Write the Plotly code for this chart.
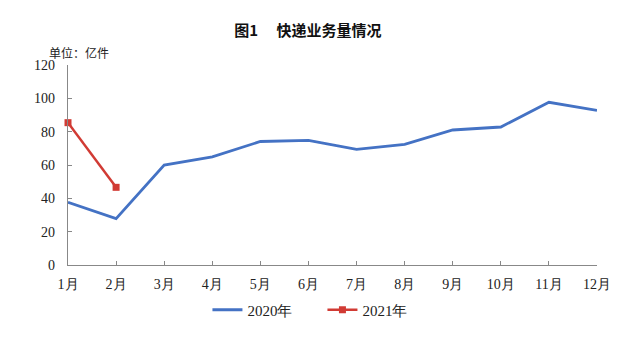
import plotly.graph_objects as go

months = ["1月", "2月", "3月", "4月", "5月", "6月", "7月", "8月", "9月", "10月", "11月", "12月"]
vals_2020 = [37.6, 27.8, 59.9, 64.9, 74.1, 74.8, 69.4, 72.4, 81.0, 82.8, 97.6, 92.8]
months_2021 = ["1月", "2月"]
vals_2021 = [85.4, 46.6]
y_ticks = [0, 20, 40, 60, 80, 100, 120]

serif = "Liberation Serif, Times New Roman, serif"
cjk = "Noto Sans CJK SC"

fig = go.Figure()
fig.add_trace(go.Scatter(x=months, y=vals_2020, mode="lines", name="2020年",
                         line=dict(color="#4472C4", width=2.8)))
fig.add_trace(go.Scatter(x=months_2021, y=vals_2021, mode="lines+markers", name="2021年",
                         line=dict(color="#D13B34", width=2.5),
                         marker=dict(symbol="square", size=7, color="#D13B34"),
                         cliponaxis=False))

fig.update_layout(
    width=640, height=338,
    margin=dict(l=68, r=43, t=65, b=73),
    paper_bgcolor="white", plot_bgcolor="white",
    font=dict(family=serif, size=14, color="#222"),
    title=dict(text="<b>图1　 快递业务量情况</b>", x=0.481, xanchor="center", y=0.91, yanchor="middle",
               font=dict(family=cjk, size=15, color="#111")),
    legend=dict(orientation="h", x=0.481, xanchor="center", y=-0.225, yanchor="middle",
                font=dict(family=serif, size=15, color="#222"), itemwidth=30,
                entrywidth=70, traceorder="normal"),
    xaxis=dict(type="category", categoryorder="array", categoryarray=months,
               range=[0, 11], showgrid=False, showline=True, linecolor="#888", linewidth=1.2,
               ticks="inside", ticklen=4, tickcolor="#888", ticklabelstandoff=6,
               tickfont=dict(family=serif, size=14)),
    yaxis=dict(range=[0, 120], tickvals=y_ticks, showgrid=False, zeroline=False,
               showline=True, linecolor="#888", linewidth=1.2,
               ticks="inside", ticklen=4, tickcolor="#888", ticklabelstandoff=9,
               tickfont=dict(family=serif, size=14)),
    annotations=[dict(text="单位：亿件", xref="paper", yref="paper", x=-0.04, y=1.0,
                      xanchor="left", yanchor="bottom", yshift=2, showarrow=False,
                      font=dict(family=cjk, size=12, color="#222"))],
)

fig.write_html("out.html")
